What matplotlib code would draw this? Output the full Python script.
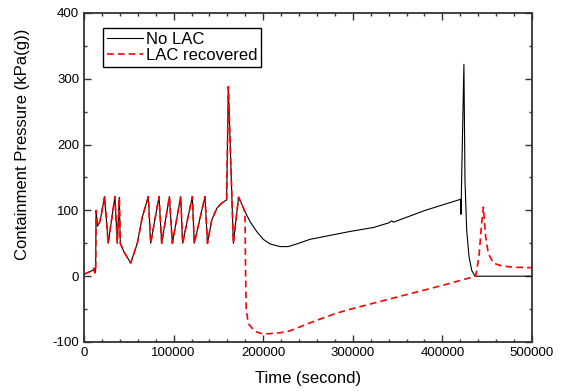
import matplotlib
matplotlib.use("Agg")
import matplotlib.pyplot as plt
from matplotlib.ticker import MultipleLocator

plt.rcParams["font.family"] = ["Liberation Sans", "DejaVu Sans"]
plt.rcParams["axes.unicode_minus"] = False

# shared part of both runs (identical until ~173000 s)
common_time = [0, 5000, 10000, 11000, 12000, 13000, 13500, 15000, 18000, 23000,
               27000, 34500, 37200, 39400, 40500, 44600, 52100, 59500, 65100, 71800,
               74400, 83700, 86700, 95300, 98600, 107900, 110100, 120900, 123100, 135000,
               137800, 142500, 148100, 153600, 159200, 161100, 166700, 172500, 176000]
common_pressure = [3, 6, 9, 12, 5, 8, 100, 76, 84, 121,
                   50, 121, 50, 120, 50, 37, 20, 50, 90, 121,
                   50, 121, 50, 121, 50, 121, 50, 121, 50, 121,
                   50, 85, 103, 111, 116, 288, 50, 120, 110]

no_lac_time = [177900, 185300, 192700, 200100, 207600, 218800, 228000, 237400, 252200,
               263400, 296900, 322900, 340000, 343400, 345200, 380600, 420600, 420700,
               424000, 425200, 427100, 429700, 432700, 436400, 500000]
no_lac_pressure = [103, 83, 68, 56, 49, 45, 45, 49, 56,
                   59, 68, 74, 81, 84, 82, 100, 117, 94,
                   322, 146, 70, 30, 9, 0, 0]

lac_time = [178500, 179700, 180300, 181000, 183400, 190800, 200100, 218800, 229900,
            241000, 255900, 280100, 295000, 340000, 400000, 437100,
            440800, 443800, 445700, 448300, 451200, 456800, 466100, 481000, 500000]
lac_pressure = [102, 95, 10, -51, -72, -84, -88, -86, -83,
                -77, -69, -57, -51, -35, -14, 0,
                30, 80, 105, 60, 35, 20, 15.5, 13.5, 13]

fig = plt.figure(figsize=(5.64, 3.91), dpi=100)
ax = fig.add_axes([84 / 564, 1 - 342 / 391, 448 / 564, 329 / 391])

ax.plot(common_time + no_lac_time, common_pressure + no_lac_pressure,
        color="black", linewidth=0.8, label="No LAC")
ax.plot(common_time + lac_time, common_pressure + lac_pressure,
        color="red", linewidth=1.2, linestyle=(0, (4, 2.5)), label="LAC recovered")

ax.set_xlim(0, 500000)
ax.set_ylim(-100, 400)
ax.xaxis.set_major_locator(MultipleLocator(100000))
ax.xaxis.set_minor_locator(MultipleLocator(20000))
ax.yaxis.set_major_locator(MultipleLocator(100))
ax.yaxis.set_minor_locator(MultipleLocator(50))
ax.tick_params(which="both", direction="in", top=True, right=True,
               width=1.0, color="#333333", labelsize=9.5)
ax.tick_params(which="major", length=5)
ax.tick_params(which="minor", length=2.5)
for spine in ax.spines.values():
    spine.set_linewidth(1.3)
    spine.set_color("#333333")

ax.set_xlabel("Time (second)", fontsize=12)
ax.set_ylabel("Containment Pressure (kPa(g))", fontsize=12)
ax.xaxis.set_label_coords(0.5, -0.088)
ax.yaxis.set_label_coords(-0.12, 0.6)

ax.legend(loc="upper left", bbox_to_anchor=(0.043, 0.9535), borderaxespad=0,
          fancybox=False, edgecolor="black", framealpha=1, fontsize=12,
          handlelength=2.2, handletextpad=0.15, borderpad=0.2, labelspacing=0.1)

fig.savefig("out.png", dpi=100)
